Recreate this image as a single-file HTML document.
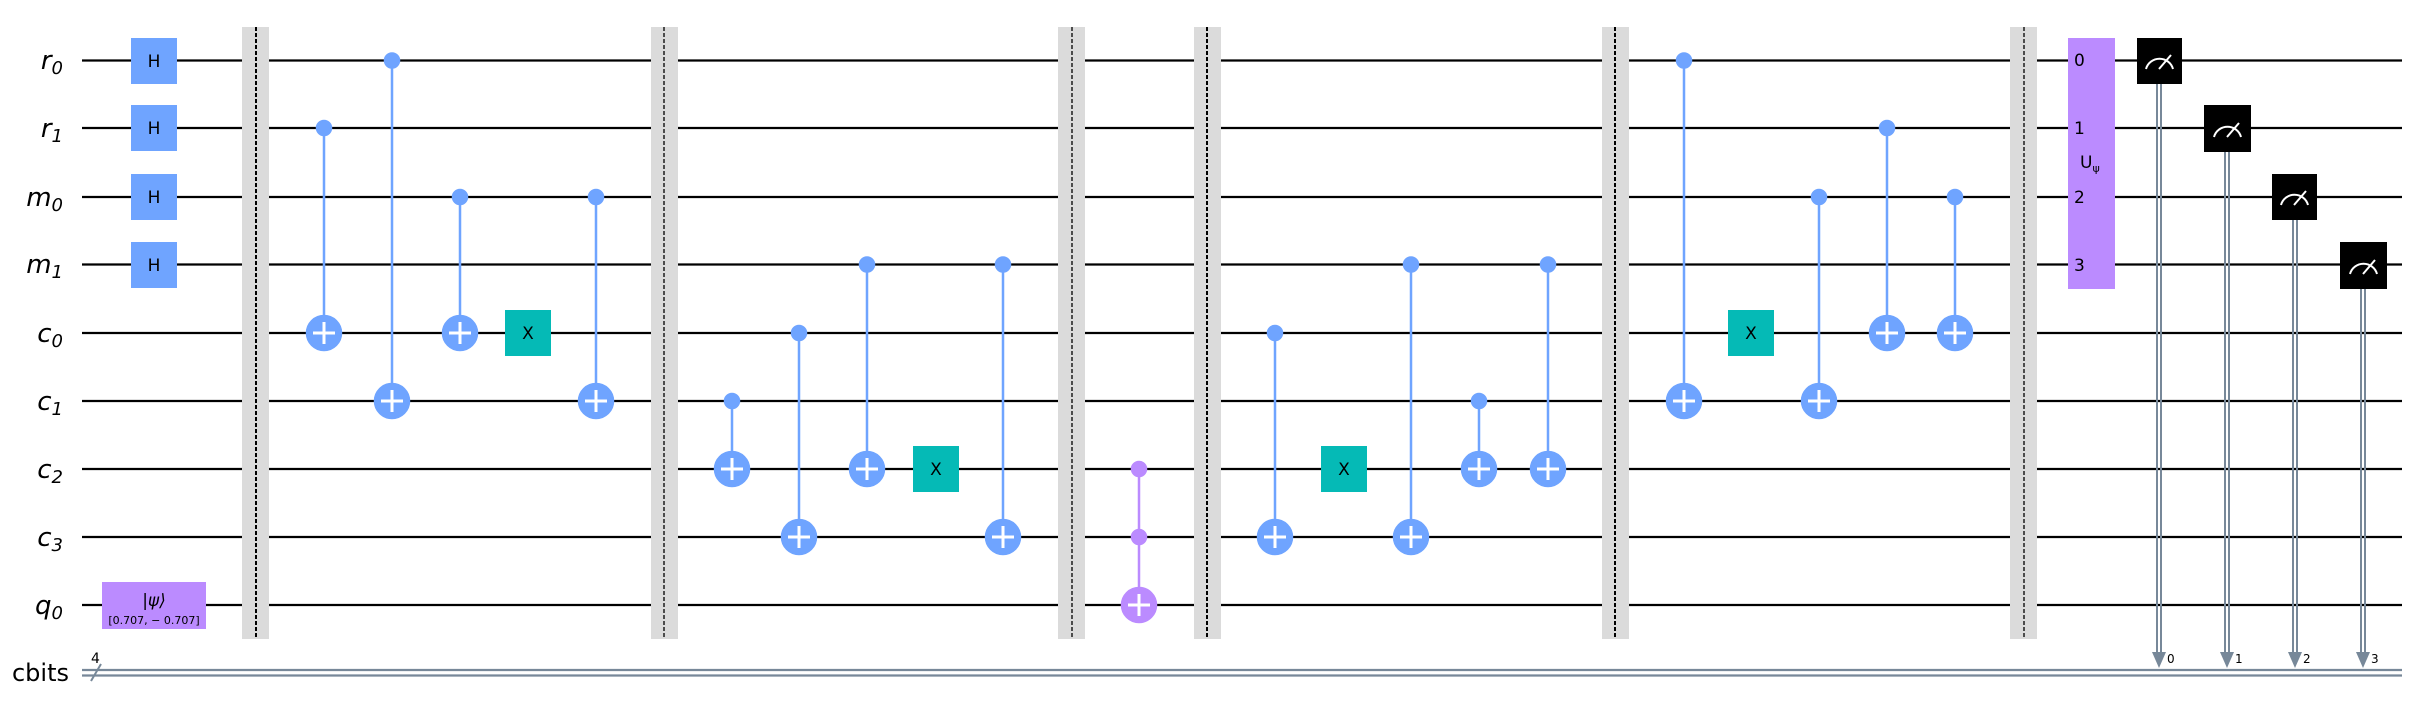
<!DOCTYPE html>
<html><head><meta charset="utf-8"><style>
html,body{margin:0;padding:0;background:#fff;}
svg{display:block;}
text{font-family:"DejaVu Sans","Liberation Sans",sans-serif;}
</style></head><body>
<svg width="2428" height="713" viewBox="0 0 2428 713" xmlns="http://www.w3.org/2000/svg">
<!-- wires -->
<g stroke="#000" stroke-width="2.2">
<line x1="82" y1="60.5" x2="2402" y2="60.5"/>
<line x1="82" y1="128" x2="2402" y2="128"/>
<line x1="82" y1="197" x2="2402" y2="197"/>
<line x1="82" y1="264.5" x2="2402" y2="264.5"/>
<line x1="82" y1="333" x2="2402" y2="333"/>
<line x1="82" y1="401" x2="2402" y2="401"/>
<line x1="82" y1="469" x2="2402" y2="469"/>
<line x1="82" y1="537" x2="2402" y2="537"/>
<line x1="82" y1="605" x2="2402" y2="605"/>
</g>
<g stroke="#778899" stroke-width="2.2">
<line x1="82" y1="670" x2="2402" y2="670"/>
<line x1="82" y1="675.5" x2="2402" y2="675.5"/>
</g>
<line x1="91" y1="681" x2="101" y2="664" stroke="#778899" stroke-width="2"/>
<text x="91" y="663" font-size="14">4</text>
<!-- labels -->
<g font-size="26" font-style="italic" text-anchor="end" font-family="DejaVu Sans">
<text x="63" y="69">r<tspan font-size="18" dy="5">0</tspan></text>
<text x="63" y="137">r<tspan font-size="18" dy="5">1</tspan></text>
<text x="63" y="206">m<tspan font-size="18" dy="5">0</tspan></text>
<text x="63" y="273">m<tspan font-size="18" dy="5">1</tspan></text>
<text x="63" y="342">c<tspan font-size="18" dy="5">0</tspan></text>
<text x="63" y="410">c<tspan font-size="18" dy="5">1</tspan></text>
<text x="63" y="478">c<tspan font-size="18" dy="5">2</tspan></text>
<text x="63" y="546">c<tspan font-size="18" dy="5">3</tspan></text>
<text x="63" y="614">q<tspan font-size="18" dy="5">0</tspan></text>
</g>
<text x="69" y="681" font-size="24" text-anchor="end">cbits</text>
<!-- H gates -->
<g fill="#6fa4ff">
<rect x="131" y="38" width="46" height="46"/>
<rect x="131" y="105" width="46" height="46"/>
<rect x="131" y="174" width="46" height="46"/>
<rect x="131" y="242" width="46" height="46"/>
</g>
<g font-size="17" text-anchor="middle">
<text x="154" y="67">H</text><text x="154" y="134">H</text><text x="154" y="203">H</text><text x="154" y="271">H</text>
</g>
<!-- psi -->
<rect x="102" y="582" width="104" height="47" fill="#bb8bff"/>
<text x="154" y="606" font-size="17" text-anchor="middle" font-style="italic">|ψ⟩</text>
<text x="154" y="624" font-size="11" text-anchor="middle">[0.707, − 0.707]</text>
<!-- barriers -->
<g fill="#dbdbdb">
<rect x="242" y="27" width="27" height="612"/>
<rect x="651" y="27" width="27" height="612"/>
<rect x="1058" y="27" width="27" height="612"/>
<rect x="1194" y="27" width="27" height="612"/>
<rect x="1602" y="27" width="27" height="612"/>
<rect x="2010" y="27" width="27" height="612"/>
</g>
<g stroke="#000" stroke-width="1.3" stroke-dasharray="4,2">
<line x1="256" y1="27" x2="256" y2="639" stroke-width="2"/>
<line x1="664" y1="27" x2="664" y2="639"/>
<line x1="1072" y1="27" x2="1072" y2="639"/>
<line x1="1207" y1="27" x2="1207" y2="639" stroke-width="2"/>
<line x1="1615" y1="27" x2="1615" y2="639" stroke-width="2"/>
<line x1="2024" y1="27" x2="2024" y2="639"/>
</g>
<!-- CNOTs -->
<g id="cx" stroke="#6fa4ff" stroke-width="2.5" fill="#6fa4ff">
<!-- section 1 -->
<line x1="324" y1="128" x2="324" y2="333"/><circle cx="324" cy="128" r="7"/><circle cx="324" cy="333" r="17"/>
<line x1="392" y1="60.5" x2="392" y2="401"/><circle cx="392" cy="60.5" r="7"/><circle cx="392" cy="401" r="17"/>
<line x1="460" y1="197" x2="460" y2="333"/><circle cx="460" cy="197" r="7"/><circle cx="460" cy="333" r="17"/>
<line x1="596" y1="197" x2="596" y2="401"/><circle cx="596" cy="197" r="7"/><circle cx="596" cy="401" r="17"/>
<!-- section 2 -->
<line x1="732" y1="401" x2="732" y2="469"/><circle cx="732" cy="401" r="7"/><circle cx="732" cy="469" r="17"/>
<line x1="799" y1="333" x2="799" y2="537"/><circle cx="799" cy="333" r="7"/><circle cx="799" cy="537" r="17"/>
<line x1="867" y1="264.5" x2="867" y2="469"/><circle cx="867" cy="264.5" r="7"/><circle cx="867" cy="469" r="17"/>
<line x1="1003" y1="264.5" x2="1003" y2="537"/><circle cx="1003" cy="264.5" r="7"/><circle cx="1003" cy="537" r="17"/>
<!-- section 4 -->
<line x1="1275" y1="333" x2="1275" y2="537"/><circle cx="1275" cy="333" r="7"/><circle cx="1275" cy="537" r="17"/>
<line x1="1411" y1="264.5" x2="1411" y2="537"/><circle cx="1411" cy="264.5" r="7"/><circle cx="1411" cy="537" r="17"/>
<line x1="1479" y1="401" x2="1479" y2="469"/><circle cx="1479" cy="401" r="7"/><circle cx="1479" cy="469" r="17"/>
<line x1="1548" y1="264.5" x2="1548" y2="469"/><circle cx="1548" cy="264.5" r="7"/><circle cx="1548" cy="469" r="17"/>
<!-- section 5 -->
<line x1="1684" y1="60.5" x2="1684" y2="401"/><circle cx="1684" cy="60.5" r="7"/><circle cx="1684" cy="401" r="17"/>
<line x1="1819" y1="197" x2="1819" y2="401"/><circle cx="1819" cy="197" r="7"/><circle cx="1819" cy="401" r="17"/>
<line x1="1887" y1="128" x2="1887" y2="333"/><circle cx="1887" cy="128" r="7"/><circle cx="1887" cy="333" r="17"/>
<line x1="1955" y1="197" x2="1955" y2="333"/><circle cx="1955" cy="197" r="7"/><circle cx="1955" cy="333" r="17"/>
</g>
<!-- toffoli -->
<g stroke="#bb8bff" stroke-width="2.5" fill="#bb8bff">
<line x1="1139" y1="469" x2="1139" y2="605"/><circle cx="1139" cy="469" r="7"/><circle cx="1139" cy="537" r="7"/><circle cx="1139" cy="605" r="17"/>
</g>
<!-- plus signs -->
<g stroke="#fff" stroke-width="3">
<path d="M313 333h22M324 322v22"/>
<path d="M381 401h22M392 390v22"/>
<path d="M449 333h22M460 322v22"/>
<path d="M585 401h22M596 390v22"/>
<path d="M721 469h22M732 458v22"/>
<path d="M788 537h22M799 526v22"/>
<path d="M856 469h22M867 458v22"/>
<path d="M992 537h22M1003 526v22"/>
<path d="M1128 605h22M1139 594v22"/>
<path d="M1264 537h22M1275 526v22"/>
<path d="M1400 537h22M1411 526v22"/>
<path d="M1468 469h22M1479 458v22"/>
<path d="M1537 469h22M1548 458v22"/>
<path d="M1673 401h22M1684 390v22"/>
<path d="M1808 401h22M1819 390v22"/>
<path d="M1876 333h22M1887 322v22"/>
<path d="M1944 333h22M1955 322v22"/>
</g>
<!-- X gates -->
<g fill="#05bab6">
<rect x="505" y="310" width="46" height="46"/>
<rect x="913" y="446" width="46" height="46"/>
<rect x="1321" y="446" width="46" height="46"/>
<rect x="1728" y="310" width="46" height="46"/>
</g>
<g font-size="17" text-anchor="middle">
<text x="528" y="339">X</text><text x="936" y="475">X</text><text x="1344" y="475">X</text><text x="1751" y="339">X</text>
</g>
<!-- U psi -->
<rect x="2068" y="38" width="47" height="251" fill="#bb8bff"/>
<g font-size="17">
<text x="2074" y="66">0</text><text x="2074" y="134">1</text><text x="2074" y="203">2</text><text x="2074" y="271">3</text>
<text x="2080" y="168">U<tspan font-size="11" dy="4">ψ</tspan></text>
</g>
<!-- measurements: double lines -->
<g stroke="#778899" stroke-width="2">
<line x1="2157" y1="84" x2="2157" y2="652"/><line x1="2161" y1="84" x2="2161" y2="652"/>
<line x1="2225" y1="151" x2="2225" y2="652"/><line x1="2229" y1="151" x2="2229" y2="652"/>
<line x1="2293" y1="220" x2="2293" y2="652"/><line x1="2297" y1="220" x2="2297" y2="652"/>
<line x1="2361" y1="288" x2="2361" y2="652"/><line x1="2365" y1="288" x2="2365" y2="652"/>
</g>
<g fill="#778899">
<path d="M2152 652h14l-7 16z"/><path d="M2220 652h14l-7 16z"/><path d="M2288 652h14l-7 16z"/><path d="M2356 652h14l-7 16z"/>
</g>
<g font-size="12">
<text x="2167" y="663">0</text><text x="2235" y="663">1</text><text x="2303" y="663">2</text><text x="2371" y="663">3</text>
</g>
<g fill="#000">
<rect x="2137" y="38" width="45" height="46"/>
<rect x="2204" y="105" width="47" height="47"/>
<rect x="2272" y="174" width="45" height="46"/>
<rect x="2340" y="242" width="47" height="47"/>
</g>
<g stroke="#fff" stroke-width="2" fill="none">
<path d="M2146 69a14 14 0 0 1 27 0M2159 69l12-14"/>
<path d="M2214 137a14 14 0 0 1 27 0M2227 137l12-14"/>
<path d="M2281 205a14 14 0 0 1 27 0M2294 205l12-14"/>
<path d="M2350 274a14 14 0 0 1 27 0M2363 274l12-14"/>
</g>
</svg>
</body></html>
